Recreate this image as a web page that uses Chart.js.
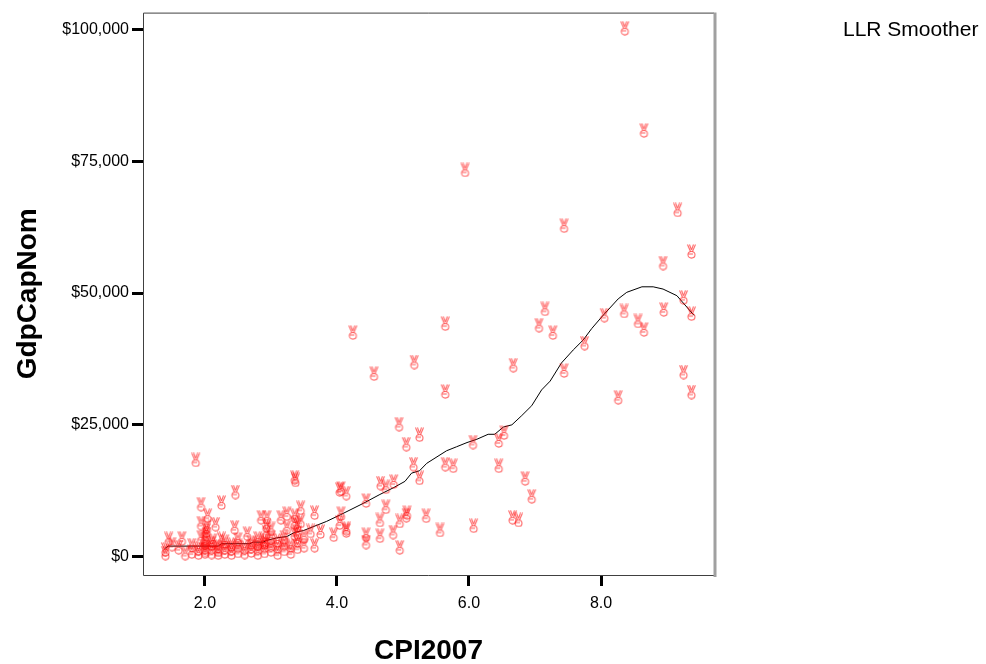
<!DOCTYPE html>
<html>
<head>
<meta charset="utf-8">
<script src="https://cdn.jsdelivr.net/npm/chart.js@4.4.0/dist/chart.umd.min.js"></script>
<style>
  body { margin: 0; background: #fff; }
  canvas { display: block; }
</style>
</head>
<body>
<canvas id="grafico" width="986" height="664"></canvas>
<script>
// pontos: [CPI2007, GdpCapNom]
const scatterPoints = [
  // grupo denso (CPI baixo)
  [1.4, 1300], [1.4, 600], [1.45, 3300], [1.5, 2300], [1.6, 1700], [1.65, 3400], [1.7, 600],
  [1.8, 2100], [1.8, 900], [1.86, 18300], [1.9, 1500], [1.9, 700], [1.94, 3600], [1.94, 9900], [1.94, 6300],
  [2.0, 1700], [2.0, 900], [2.0, 2600], [2.0, 3500], [2.02, 4200], [2.02, 4900], [2.03, 5600], [2.04, 7700], [2.0, 1200],
  [2.1, 1700], [2.1, 800], [2.16, 6100], [2.1, 2400], [2.12, 3000],
  [2.2, 1900], [2.2, 700], [2.2, 1200], [2.25, 3300],
  [2.3, 1700], [2.3, 900], [2.25, 10200], [2.3, 2800],
  [2.4, 1500], [2.4, 700], [2.4, 2200], [2.46, 12200], [2.45, 5500],
  [2.5, 2000], [2.5, 1000], [2.5, 3200],
  [2.6, 1700], [2.6, 800], [2.64, 4300],
  [2.7, 1900], [2.7, 1100], [2.7, 2600],
  [2.8, 1600], [2.8, 700], [2.8, 2400], [2.8, 3400], [2.85, 7400],
  [2.9, 2000], [2.9, 1000], [2.9, 3000], [2.93, 4600], [2.93, 5800], [2.94, 7400], [2.9, 2600],
  [3.0, 2200], [3.0, 1300], [3.0, 3600], [3.0, 5200],
  [3.1, 1800], [3.1, 700], [3.15, 7400], [3.1, 3000],
  [3.2, 2500], [3.2, 1400], [3.24, 5500], [3.24, 8100], [3.2, 3600],
  [3.3, 2000], [3.3, 900], [3.36, 4300], [3.36, 6400],
  [3.4, 1800], [3.4, 3000], [3.36, 7700], [3.45, 6700], [3.45, 9200], [3.36, 15000], [3.37, 14500], [3.4, 4500], [3.4, 5900],
  [3.5, 2100], [3.5, 3800],
  [3.66, 2100], [3.66, 8300], [3.6, 4800],
  [3.75, 4700], [3.95, 4100],
  // faixa intermediaria
  [4.04, 12700], [4.06, 12900], [4.14, 12000], [4.66, 13900], [4.74, 13200], [4.86, 14200],
  [4.44, 10600], [4.74, 9400], [4.06, 8100], [4.04, 6400], [4.14, 4900], [4.14, 5300],
  [4.44, 4100], [4.44, 2700], [4.65, 6900], [4.65, 3900], [4.85, 4600], [4.95, 1700],
  [4.95, 6700], [5.05, 7800], [5.06, 8300], [5.35, 7700], [5.56, 5000], [6.07, 5800],
  [6.66, 7400], [6.75, 6900], [6.95, 11400],
  [5.64, 31300], [4.94, 25100], [5.25, 23100], [5.05, 21300], [6.06, 21700], [6.45, 22000],
  [6.53, 23500], [5.16, 17500], [5.64, 17500], [5.76, 17200], [6.45, 17200], [6.85, 14800], [5.25, 14900],
  // CPI alto
  [4.24, 42500], [4.56, 34700], [5.17, 36900], [5.64, 44200], [6.67, 36300], [5.94, 73400],
  [7.44, 62800], [9.16, 65800], [9.37, 57900], [8.94, 55700], [8.36, 100300], [8.65, 80900],
  [7.15, 47000], [7.06, 43900], [7.27, 42500], [8.05, 45800], [8.35, 46600], [8.56, 44700],
  [8.65, 43100], [8.95, 46900], [9.25, 49200], [9.37, 46100], [7.75, 40500], [7.44, 35300],
  [9.25, 35000], [9.37, 31200], [8.26, 30200]
];

// curva LLR Smoother
const smoothX = [1.39, 1.44, 2.20, 2.25, 2.68, 2.73, 2.88, 2.93, 3.09, 3.24, 3.36, 3.49, 3.64, 3.84, 4.05,
  4.40, 4.65, 4.85, 5.03, 5.13, 5.25, 5.36, 5.66, 5.81, 5.97, 6.12, 6.29, 6.39, 6.52, 6.65, 6.80,
  6.95, 7.10, 7.23, 7.40, 7.58, 7.73, 7.86, 8.01, 8.26, 8.39, 8.62, 8.79, 8.94, 9.15, 9.41];
const smoothY = [1440, 1930, 1930, 2380, 2380, 2680, 2680, 3000, 3500, 3750, 4550, 4870, 5620, 6610, 7870,
  10060, 11740, 12980, 14230, 15790, 16240, 17660, 20040, 20790, 21600, 22230, 23170, 23170, 24540, 24970, 26730,
  28600, 31600, 33280, 36710, 39200, 41080, 43270, 45460, 48890, 50140, 51190, 51190, 50760, 49500, 45760];

const xTickValues = [2, 4, 6, 8];
const yTickValues = [0, 25000, 50000, 75000, 100000];

// marcador: mao de "paz" desenhada num canvas pequeno
function criaMarcador() {
    const c = document.createElement('canvas');
    c.width = 11; c.height = 15;
    const g = c.getContext('2d');
    g.strokeStyle = 'rgba(255,0,0,0.6)';
    g.lineWidth = 1.1;
    g.beginPath();
    // dedos
    g.moveTo(1.5, 0.5); g.lineTo(4.5, 7.5);
    g.moveTo(3.5, 0.5); g.lineTo(5.5, 6);
    g.moveTo(9.5, 0.5); g.lineTo(6.5, 7.5);
    g.moveTo(7.5, 0.5); g.lineTo(5.5, 6);
    g.stroke();
    // punho
    g.beginPath();
    g.ellipse(5.5, 10.8, 3.5, 3.3, 0, 0, Math.PI * 2);
    g.stroke();
    g.beginPath();
    g.moveTo(2.5, 10); g.lineTo(7, 10);
    g.stroke();
    return c;
}

const moldura = {
    id: 'moldura',
    afterDraw(chart) {
        const { ctx, chartArea: a } = chart;
        ctx.save();
        ctx.strokeStyle = '#404040';
        ctx.lineWidth = 1;
        ctx.beginPath();
        ctx.moveTo(a.right, a.top + 0.5); ctx.lineTo(a.left + 0.5, a.top + 0.5);
        ctx.lineTo(a.left + 0.5, a.bottom + 0.5); ctx.lineTo(a.right, a.bottom + 0.5);
        ctx.stroke();
        ctx.strokeStyle = '#a0a0a0';
        ctx.lineWidth = 3;
        ctx.beginPath();
        ctx.moveTo(a.right + 1, a.top); ctx.lineTo(a.right + 1, a.bottom + 2);
        ctx.stroke();
        ctx.fillStyle = '#000';
        ctx.font = '21px "Liberation Sans", Arial, sans-serif';
        ctx.textBaseline = 'middle';
        ctx.fillText('LLR Smoother', 843, 30);
        ctx.restore();
    }
};

new Chart(document.getElementById('grafico').getContext('2d'), {
    type: 'scatter',
    data: {
        datasets: [
            {
                label: 'GdpCapNom',
                data: scatterPoints.map(p => ({ x: p[0], y: p[1] })),
                pointStyle: criaMarcador(),
                pointRadius: 6
            },
            {
                label: 'LLR Smoother',
                data: smoothX.map((x, i) => ({ x: x, y: smoothY[i] })),
                showLine: true,
                borderColor: '#000',
                borderWidth: 1,
                pointRadius: 0,
                tension: 0
            }
        ]
    },
    options: {
        responsive: false,
        animation: false,
        layout: { padding: { top: 5, right: 272, left: 0, bottom: 0 } },
        plugins: { legend: { display: false }, tooltip: { enabled: false } },
        scales: {
            x: {
                type: 'linear',
                min: 1.061, max: 9.712,
                afterFit: s => { s.height = 89; },
                afterBuildTicks: s => { s.ticks = xTickValues.map(v => ({ value: v })); },
                border: { display: false },
                grid: { drawOnChartArea: false, drawTicks: true, tickLength: 11, tickWidth: 3, tickColor: '#000' },
                ticks: {
                    padding: 8, color: '#000',
                    font: { family: '"Liberation Sans", Arial, sans-serif', size: 16 },
                    callback: v => v.toFixed(1)
                },
                title: {
                    display: true, text: 'CPI2007', color: '#000',
                    font: { family: '"Liberation Sans", Arial, sans-serif', size: 28, weight: 'bold', lineHeight: 1 },
                    padding: { top: 0, bottom: -1 }
                }
            },
            y: {
                type: 'linear',
                min: -3560, max: 103280,
                afterFit: s => { s.width = 143; },
                afterBuildTicks: s => { s.ticks = yTickValues.map(v => ({ value: v })); },
                border: { display: false },
                grid: { drawOnChartArea: false, drawTicks: true, tickLength: 11, tickWidth: 3, tickColor: '#000' },
                ticks: {
                    padding: 3, color: '#000',
                    font: { family: '"Liberation Sans", Arial, sans-serif', size: 16 },
                    callback: v => '$' + v.toLocaleString('en-US')
                },
                title: {
                    display: true, text: 'GdpCapNom', color: '#000',
                    font: { family: '"Liberation Sans", Arial, sans-serif', size: 28, weight: 'bold', lineHeight: 1 },
                    padding: { top: 14, bottom: 0 }
                }
            }
        }
    },
    plugins: [moldura]
});
</script>
</body>
</html>
